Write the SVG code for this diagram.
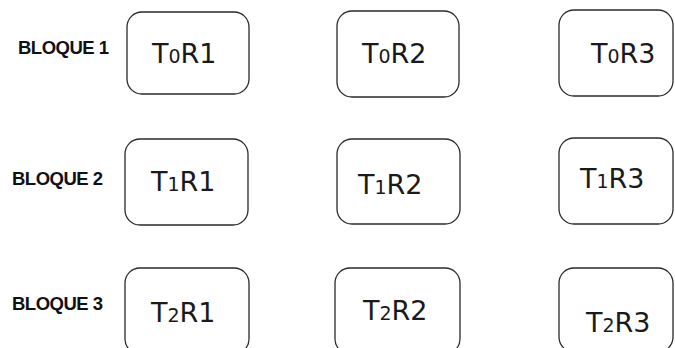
<svg xmlns="http://www.w3.org/2000/svg" width="675" height="348" viewBox="0 0 675 348">
  <style>
    .box { fill: #ffffff; stroke: #2a2a2a; stroke-width: 1.3; }
    .lbl { font-family: "DejaVu Sans", "Liberation Sans", sans-serif; font-size: 27px; fill: #1a1a1a; }
    .sub { font-size: 19px; }
    .row { font-family: "Liberation Sans", Arial, sans-serif; font-weight: bold; font-size: 18.5px; fill: #111111; letter-spacing: -0.5px; }
  </style>
  <rect width="675" height="348" fill="#ffffff"/>

  <!-- row captions -->
  <g id="rows">
    <text class="row" x="18" y="54">BLOQUE 1</text>
    <text class="row" x="12" y="185">BLOQUE 2</text>
    <text class="row" x="12" y="310">BLOQUE 3</text>
  </g>

  <!-- block 1 -->
  <g id="t0r1"><rect class="box" x="127" y="12" width="122" height="82" rx="15"/>
    <text class="lbl" x="152" y="63">T<tspan class="sub">0</tspan>R1</text></g>
  <g id="t0r2"><rect class="box" x="337" y="11" width="122" height="86" rx="15"/>
    <text class="lbl" x="362" y="63">T<tspan class="sub">0</tspan>R2</text></g>
  <g id="t0r3"><rect class="box" x="559" y="10" width="114" height="86" rx="15"/>
    <text class="lbl" x="591" y="63">T<tspan class="sub">0</tspan>R3</text></g>

  <!-- block 2 -->
  <g id="t1r1"><rect class="box" x="125" y="139" width="123" height="86" rx="15"/>
    <text class="lbl" x="151" y="191">T<tspan class="sub">1</tspan>R1</text></g>
  <g id="t1r2"><rect class="box" x="337" y="139" width="123" height="85" rx="15"/>
    <text class="lbl" x="358" y="194">T<tspan class="sub">1</tspan>R2</text></g>
  <g id="t1r3"><rect class="box" x="559" y="138" width="114" height="86" rx="15"/>
    <text class="lbl" x="580" y="188">T<tspan class="sub">1</tspan>R3</text></g>

  <!-- block 3 -->
  <g id="t2r1"><rect class="box" x="125" y="268" width="124" height="86" rx="15"/>
    <text class="lbl" x="151" y="322">T<tspan class="sub">2</tspan>R1</text></g>
  <g id="t2r2"><rect class="box" x="335" y="268" width="125" height="86" rx="15"/>
    <text class="lbl" x="363" y="320">T<tspan class="sub">2</tspan>R2</text></g>
  <g id="t2r3"><rect class="box" x="559" y="268" width="114" height="84" rx="15"/>
    <text class="lbl" x="586" y="332">T<tspan class="sub">2</tspan>R3</text></g>

  <g id="connectors"/>
</svg>
